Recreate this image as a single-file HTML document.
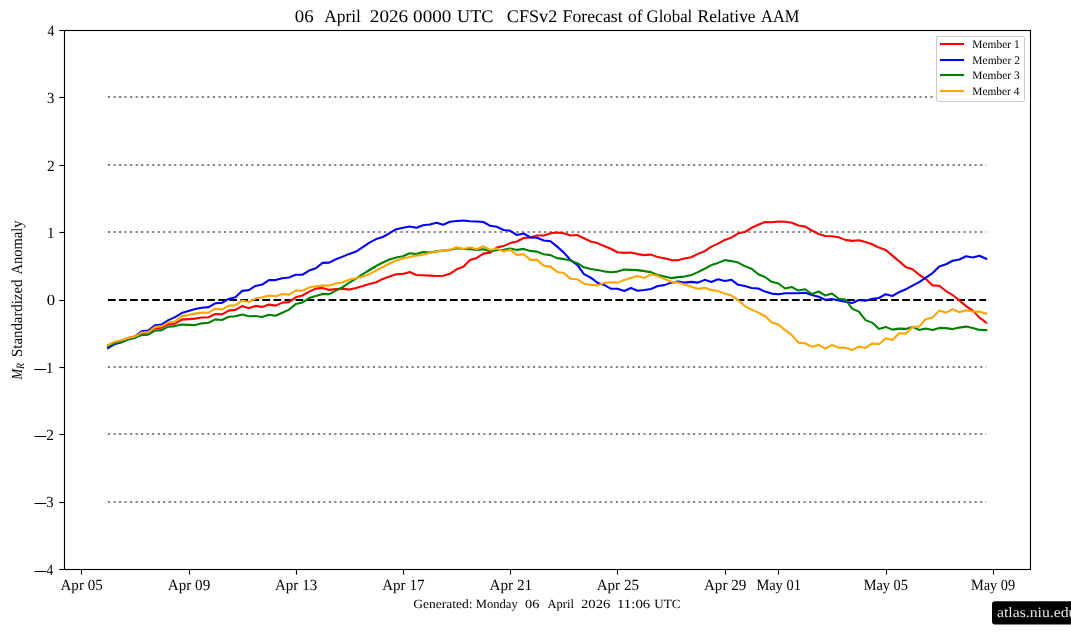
<!DOCTYPE html>
<html><head><meta charset="utf-8"><style>
html,body{margin:0;padding:0;background:#fff;width:1071px;height:638px;overflow:hidden;position:relative}
</style></head><body>
<svg width="1071" height="638" viewBox="0 0 1071 638" style="position:absolute;left:0;top:0;will-change:transform" text-rendering="geometricPrecision"><rect x="0" y="0" width="1071" height="638" fill="#ffffff"/><line x1="108.00" y1="97.00" x2="986.20" y2="97.00" stroke="#808080" stroke-width="2.08" stroke-dasharray="2.08 3.44"/><line x1="108.00" y1="165.00" x2="986.20" y2="165.00" stroke="#808080" stroke-width="2.08" stroke-dasharray="2.08 3.44"/><line x1="108.00" y1="232.00" x2="986.20" y2="232.00" stroke="#808080" stroke-width="2.08" stroke-dasharray="2.08 3.44"/><line x1="108.00" y1="367.00" x2="986.20" y2="367.00" stroke="#808080" stroke-width="2.08" stroke-dasharray="2.08 3.44"/><line x1="108.00" y1="434.00" x2="986.20" y2="434.00" stroke="#808080" stroke-width="2.08" stroke-dasharray="2.08 3.44"/><line x1="108.00" y1="502.00" x2="986.20" y2="502.00" stroke="#808080" stroke-width="2.08" stroke-dasharray="2.08 3.44"/><line x1="108.00" y1="300" x2="986.20" y2="300" stroke="#000000" stroke-width="2.08" stroke-dasharray="7.7 3.33"/><polyline fill="none" stroke="#ff0000" stroke-width="2.08" stroke-linejoin="round" stroke-linecap="square" points="108.00,345.70 114.70,342.20 121.41,340.70 128.11,338.10 134.82,336.60 141.52,333.10 148.22,332.60 154.93,328.10 161.63,327.60 168.33,324.10 175.04,323.60 181.74,319.60 188.45,319.10 195.15,318.60 201.85,317.50 208.56,317.20 215.26,314.00 221.96,314.40 228.67,310.60 235.37,309.90 242.08,306.10 248.78,308.30 255.48,305.90 262.19,306.90 268.89,304.60 275.60,305.60 282.30,302.60 289.00,302.10 295.71,297.30 302.41,295.50 309.11,291.60 315.82,288.60 322.52,287.90 329.23,289.90 335.93,289.10 342.63,288.60 349.34,289.60 356.04,288.10 362.74,286.10 369.45,283.90 376.15,282.30 382.86,278.90 389.56,276.60 396.26,274.30 402.97,273.90 409.67,272.00 416.37,275.00 423.08,275.30 429.78,275.60 436.49,276.00 443.19,275.80 449.89,273.80 456.60,269.30 463.30,266.70 470.01,259.90 476.71,257.90 483.41,253.60 490.12,252.60 496.82,247.60 503.52,246.10 510.23,243.10 516.93,241.50 523.64,238.00 530.34,237.50 537.04,235.50 543.75,235.50 550.45,233.20 557.15,232.50 563.86,233.20 570.56,235.50 577.27,235.00 583.97,238.20 590.67,241.50 597.38,243.10 604.08,246.05 610.79,248.80 617.49,252.20 624.19,252.90 630.90,252.50 637.60,254.10 644.30,255.10 651.01,254.60 657.71,257.10 664.42,258.30 671.12,260.10 677.82,260.30 684.53,258.60 691.23,257.30 697.93,253.90 704.64,251.20 711.34,246.60 718.05,243.60 724.75,239.90 731.45,237.60 738.16,233.30 744.86,232.00 751.56,227.80 758.27,224.80 764.97,222.00 771.68,222.20 778.38,221.50 785.08,221.80 791.79,222.80 798.49,225.50 805.20,226.65 811.90,230.50 818.60,234.00 825.31,236.00 832.01,236.20 838.71,237.20 845.42,239.90 852.12,240.90 858.83,240.30 865.53,242.10 872.23,244.30 878.94,247.60 885.64,249.90 892.34,255.60 899.05,261.10 905.75,267.00 912.46,269.30 919.16,274.60 925.86,279.10 932.57,285.40 939.27,285.70 945.98,291.05 952.68,295.05 959.38,300.40 966.09,306.15 972.79,310.60 979.49,317.60 986.20,322.60"/><polyline fill="none" stroke="#0000ff" stroke-width="2.08" stroke-linejoin="round" stroke-linecap="square" points="108.00,348.00 114.70,344.20 121.41,342.20 128.11,339.10 134.82,336.60 141.52,331.30 148.22,330.60 154.93,325.30 161.63,324.60 168.33,320.10 175.04,317.10 181.74,313.10 188.45,311.10 195.15,309.10 201.85,307.75 208.56,307.10 215.26,303.30 221.96,302.90 228.67,298.90 235.37,297.30 242.08,290.90 248.78,290.10 255.48,285.90 262.19,284.60 268.89,280.10 275.60,280.10 282.30,278.20 289.00,277.50 295.71,274.70 302.41,274.75 309.11,270.60 315.82,268.30 322.52,262.90 329.23,262.60 335.93,259.30 342.63,256.60 349.34,253.90 356.04,251.60 362.74,247.10 369.45,242.60 376.15,239.10 382.86,237.00 389.56,233.20 396.26,229.20 402.97,227.75 409.67,226.50 416.37,227.80 423.08,225.20 429.78,224.50 436.49,222.80 443.19,224.80 449.89,221.80 456.60,221.00 463.30,220.50 470.01,221.20 476.71,221.50 483.41,222.00 490.12,225.80 496.82,226.80 503.52,229.95 510.23,230.80 516.93,235.00 523.64,233.50 530.34,237.50 537.04,237.80 543.75,240.50 550.45,241.20 557.15,246.60 563.86,252.60 570.56,260.10 577.27,264.90 583.97,274.10 590.67,277.70 597.38,282.70 604.08,284.90 610.79,288.70 617.49,288.70 624.19,291.00 630.90,288.00 637.60,290.70 644.30,290.00 651.01,289.00 657.71,286.00 664.42,285.10 671.12,282.60 677.82,281.60 684.53,282.60 691.23,281.90 697.93,282.60 704.64,279.85 711.34,282.00 718.05,279.20 724.75,281.00 731.45,279.80 738.16,284.80 744.86,286.00 751.56,288.00 758.27,288.50 764.97,291.60 771.68,293.60 778.38,294.30 785.08,293.30 791.79,293.30 798.49,293.30 805.20,292.70 811.90,295.00 818.60,296.80 825.31,299.80 832.01,299.00 838.71,300.50 845.42,301.80 852.12,303.10 858.83,300.00 865.53,300.80 872.23,298.80 878.94,298.00 885.64,294.20 892.34,296.00 899.05,292.20 905.75,289.30 912.46,285.60 919.16,282.10 925.86,277.60 932.57,273.10 939.27,266.60 945.98,264.20 952.68,260.80 959.38,259.50 966.09,256.20 972.79,257.50 979.49,255.80 986.20,258.80"/><polyline fill="none" stroke="#008000" stroke-width="2.08" stroke-linejoin="round" stroke-linecap="square" points="108.00,346.20 114.70,343.20 121.41,342.20 128.11,339.60 134.82,337.90 141.52,335.10 148.22,334.60 154.93,330.60 161.63,330.10 168.33,326.60 175.04,326.10 181.74,324.60 188.45,324.90 195.15,325.10 201.85,323.35 208.56,322.70 215.26,319.40 221.96,320.00 228.67,316.70 235.37,316.20 242.08,314.40 248.78,316.20 255.48,316.00 262.19,317.00 268.89,314.70 275.60,315.70 282.30,312.70 289.00,309.60 295.71,304.10 302.41,302.60 309.11,298.10 315.82,296.10 322.52,293.90 329.23,294.10 335.93,290.60 342.63,287.10 349.34,282.60 356.04,278.60 362.74,274.10 369.45,270.00 376.15,266.00 382.86,262.50 389.56,259.50 396.26,257.50 402.97,256.30 409.67,253.30 416.37,254.10 423.08,252.10 429.78,252.60 436.49,251.30 443.19,250.60 449.89,249.90 456.60,248.30 463.30,248.90 470.01,249.10 476.71,249.90 483.41,249.30 490.12,251.30 496.82,250.30 503.52,249.75 510.23,248.60 516.93,249.90 523.64,248.90 530.34,250.90 537.04,251.60 543.75,254.30 550.45,255.10 557.15,258.10 563.86,259.10 570.56,260.60 577.27,263.10 583.97,267.30 590.67,268.90 597.38,270.10 604.08,271.35 610.79,272.30 617.49,271.60 624.19,269.60 630.90,269.90 637.60,270.10 644.30,271.10 651.01,272.10 657.71,275.10 664.42,276.60 671.12,278.10 677.82,277.10 684.53,276.60 691.23,275.10 697.93,272.10 704.64,268.75 711.34,265.10 718.05,262.90 724.75,260.10 731.45,261.10 738.16,262.60 744.86,266.10 751.56,268.70 758.27,274.20 764.97,277.00 771.68,281.80 778.38,283.50 785.08,288.50 791.79,287.00 798.49,290.60 805.20,289.25 811.90,294.00 818.60,291.50 825.31,295.50 832.01,293.50 838.71,298.80 845.42,299.50 852.12,308.60 858.83,311.60 865.53,320.10 872.23,322.60 878.94,328.90 885.64,326.90 892.34,329.60 899.05,328.60 905.75,328.90 912.46,326.90 919.16,329.90 925.86,328.60 932.57,329.90 939.27,327.90 945.98,328.10 952.68,329.10 959.38,327.60 966.09,326.60 972.79,328.10 979.49,329.90 986.20,330.10"/><polyline fill="none" stroke="#ffa500" stroke-width="2.08" stroke-linejoin="round" stroke-linecap="square" points="108.00,345.20 114.70,341.70 121.41,340.20 128.11,338.10 134.82,336.60 141.52,332.60 148.22,332.10 154.93,327.10 161.63,326.10 168.33,322.60 175.04,321.60 181.74,316.10 188.45,315.10 195.15,313.60 201.85,312.65 208.56,312.70 215.26,308.60 221.96,309.60 228.67,305.60 235.37,305.30 242.08,300.60 248.78,302.10 255.48,298.60 262.19,297.30 268.89,295.60 275.60,296.30 282.30,294.10 289.00,294.60 295.71,290.60 302.41,290.60 309.11,287.60 315.82,286.30 322.52,285.60 329.23,285.60 335.93,283.60 342.63,282.30 349.34,279.60 356.04,278.30 362.74,276.60 369.45,274.10 376.15,270.50 382.86,267.00 389.56,263.50 396.26,260.50 402.97,258.50 409.67,256.90 416.37,255.60 423.08,254.60 429.78,252.90 436.49,251.60 443.19,250.60 449.89,249.90 456.60,247.30 463.30,248.90 470.01,247.30 476.71,249.30 483.41,246.30 490.12,249.90 496.82,248.60 503.52,251.45 510.23,249.60 516.93,255.10 523.64,254.10 530.34,259.90 537.04,259.90 543.75,265.60 550.45,266.60 557.15,271.90 563.86,273.10 570.56,278.70 577.27,279.20 583.97,283.70 590.67,284.70 597.38,285.40 604.08,283.05 610.79,282.30 617.49,282.60 624.19,279.90 630.90,277.90 637.60,275.90 644.30,277.90 651.01,274.30 657.71,276.10 664.42,278.90 671.12,281.60 677.82,282.60 684.53,284.60 691.23,286.70 697.93,288.70 704.64,287.85 711.34,289.90 718.05,291.10 724.75,293.60 731.45,295.60 738.16,300.10 744.86,306.10 751.56,309.60 758.27,312.60 764.97,315.95 771.68,322.50 778.38,324.50 785.08,330.15 791.79,335.15 798.49,342.60 805.20,343.40 811.90,346.80 818.60,344.90 825.31,348.65 832.01,344.95 838.71,347.65 845.42,347.80 852.12,350.05 858.83,346.65 865.53,347.95 872.23,343.40 878.94,344.20 885.64,338.20 892.34,340.00 899.05,333.30 905.75,333.65 912.46,326.90 919.16,326.60 925.86,318.90 932.57,317.60 939.27,310.60 945.98,312.60 952.68,309.30 959.38,312.30 966.09,310.30 972.79,311.60 979.49,311.60 986.20,313.60"/><rect x="64.5" y="30.5" width="966.00" height="539.00" fill="none" stroke="#000" stroke-width="1.11"/><line x1="59.4" y1="569.50" x2="64.5" y2="569.50" stroke="#000" stroke-width="1.11"/><line x1="59.4" y1="502.50" x2="64.5" y2="502.50" stroke="#000" stroke-width="1.11"/><line x1="59.4" y1="434.50" x2="64.5" y2="434.50" stroke="#000" stroke-width="1.11"/><line x1="59.4" y1="367.50" x2="64.5" y2="367.50" stroke="#000" stroke-width="1.11"/><line x1="59.4" y1="300.50" x2="64.5" y2="300.50" stroke="#000" stroke-width="1.11"/><line x1="59.4" y1="232.50" x2="64.5" y2="232.50" stroke="#000" stroke-width="1.11"/><line x1="59.4" y1="165.50" x2="64.5" y2="165.50" stroke="#000" stroke-width="1.11"/><line x1="59.4" y1="97.50" x2="64.5" y2="97.50" stroke="#000" stroke-width="1.11"/><line x1="59.4" y1="30.50" x2="64.5" y2="30.50" stroke="#000" stroke-width="1.11"/><line x1="81.50" y1="569.5" x2="81.50" y2="574.6" stroke="#000" stroke-width="1.11"/><line x1="189.50" y1="569.5" x2="189.50" y2="574.6" stroke="#000" stroke-width="1.11"/><line x1="296.50" y1="569.5" x2="296.50" y2="574.6" stroke="#000" stroke-width="1.11"/><line x1="403.50" y1="569.5" x2="403.50" y2="574.6" stroke="#000" stroke-width="1.11"/><line x1="510.50" y1="569.5" x2="510.50" y2="574.6" stroke="#000" stroke-width="1.11"/><line x1="617.50" y1="569.5" x2="617.50" y2="574.6" stroke="#000" stroke-width="1.11"/><line x1="725.50" y1="569.5" x2="725.50" y2="574.6" stroke="#000" stroke-width="1.11"/><line x1="778.50" y1="569.5" x2="778.50" y2="574.6" stroke="#000" stroke-width="1.11"/><line x1="886.50" y1="569.5" x2="886.50" y2="574.6" stroke="#000" stroke-width="1.11"/><line x1="993.50" y1="569.5" x2="993.50" y2="574.6" stroke="#000" stroke-width="1.11"/><text x="60.46" y="589.80" font-family="Liberation Serif" font-size="15.5" textLength="42.31" lengthAdjust="spacingAndGlyphs" fill="#000000">Apr 05</text><text x="167.70" y="589.80" font-family="Liberation Serif" font-size="15.5" textLength="42.56" lengthAdjust="spacingAndGlyphs" fill="#000000">Apr 09</text><text x="274.94" y="589.80" font-family="Liberation Serif" font-size="15.5" textLength="42.31" lengthAdjust="spacingAndGlyphs" fill="#000000">Apr 13</text><text x="382.18" y="589.80" font-family="Liberation Serif" font-size="15.5" textLength="42.31" lengthAdjust="spacingAndGlyphs" fill="#000000">Apr 17</text><text x="489.41" y="589.80" font-family="Liberation Serif" font-size="15.5" textLength="42.82" lengthAdjust="spacingAndGlyphs" fill="#000000">Apr 21</text><text x="596.66" y="589.80" font-family="Liberation Serif" font-size="15.5" textLength="42.31" lengthAdjust="spacingAndGlyphs" fill="#000000">Apr 25</text><text x="703.90" y="589.80" font-family="Liberation Serif" font-size="15.5" textLength="42.56" lengthAdjust="spacingAndGlyphs" fill="#000000">Apr 29</text><text x="756.39" y="589.80" font-family="Liberation Serif" font-size="15.5" textLength="44.51" lengthAdjust="spacingAndGlyphs" fill="#000000">May 01</text><text x="863.64" y="589.80" font-family="Liberation Serif" font-size="15.5" textLength="44.27" lengthAdjust="spacingAndGlyphs" fill="#000000">May 05</text><text x="970.88" y="589.80" font-family="Liberation Serif" font-size="15.5" textLength="44.27" lengthAdjust="spacingAndGlyphs" fill="#000000">May 09</text><text x="47.58" y="36.10" font-family="Liberation Serif" font-size="15.5" textLength="6.84" lengthAdjust="spacingAndGlyphs" fill="#000000">4</text><text x="47.08" y="103.10" font-family="Liberation Serif" font-size="15.5" textLength="7.39" lengthAdjust="spacingAndGlyphs" fill="#000000">3</text><text x="47.04" y="171.10" font-family="Liberation Serif" font-size="15.5" textLength="7.81" lengthAdjust="spacingAndGlyphs" fill="#000000">2</text><text x="47.00" y="238.00" font-family="Liberation Serif" font-size="15.5" textLength="7.47" lengthAdjust="spacingAndGlyphs" fill="#000000">1</text><text x="46.86" y="305.00" font-family="Liberation Serif" font-size="15.5" textLength="8.38" lengthAdjust="spacingAndGlyphs" fill="#000000">0</text><text x="46.12" y="373.00" font-family="Liberation Serif" font-size="15.5" textLength="7.33" lengthAdjust="spacingAndGlyphs" fill="#000000">1</text><rect x="34.3" y="369.00" width="12.00" height="1" fill="#000"/><text x="46.16" y="440.10" font-family="Liberation Serif" font-size="15.5" textLength="7.69" lengthAdjust="spacingAndGlyphs" fill="#000000">2</text><rect x="34.5" y="436.00" width="11.80" height="1" fill="#000"/><text x="46.18" y="507.10" font-family="Liberation Serif" font-size="15.5" textLength="7.39" lengthAdjust="spacingAndGlyphs" fill="#000000">3</text><rect x="34.5" y="503.00" width="11.60" height="1" fill="#000"/><text x="46.58" y="575.00" font-family="Liberation Serif" font-size="15.5" textLength="6.73" lengthAdjust="spacingAndGlyphs" fill="#000000">4</text><rect x="34.5" y="571.00" width="11.90" height="1" fill="#000"/><text x="294.80" y="22.00" font-family="Liberation Serif" font-size="17.8" textLength="18.86" lengthAdjust="spacingAndGlyphs" fill="#000000">06</text><text x="324.15" y="22.00" font-family="Liberation Serif" font-size="17.8" textLength="36.84" lengthAdjust="spacingAndGlyphs" fill="#000000">April</text><text x="369.89" y="22.00" font-family="Liberation Serif" font-size="17.8" textLength="38.31" lengthAdjust="spacingAndGlyphs" fill="#000000">2026</text><text x="413.09" y="22.00" font-family="Liberation Serif" font-size="17.8" textLength="38.21" lengthAdjust="spacingAndGlyphs" fill="#000000">0000</text><text x="456.99" y="22.00" font-family="Liberation Serif" font-size="17.8" textLength="36.40" lengthAdjust="spacingAndGlyphs" fill="#000000">UTC</text><text x="506.84" y="22.00" font-family="Liberation Serif" font-size="17.8" textLength="50.41" lengthAdjust="spacingAndGlyphs" fill="#000000">CFSv2</text><text x="562.60" y="22.00" font-family="Liberation Serif" font-size="17.8" textLength="60.00" lengthAdjust="spacingAndGlyphs" fill="#000000">Forecast</text><text x="628.06" y="22.00" font-family="Liberation Serif" font-size="17.8" textLength="14.60" lengthAdjust="spacingAndGlyphs" fill="#000000">of</text><text x="646.59" y="22.00" font-family="Liberation Serif" font-size="17.8" textLength="45.69" lengthAdjust="spacingAndGlyphs" fill="#000000">Global</text><text x="697.61" y="22.00" font-family="Liberation Serif" font-size="17.8" textLength="57.98" lengthAdjust="spacingAndGlyphs" fill="#000000">Relative</text><text x="761.07" y="22.00" font-family="Liberation Serif" font-size="17.8" textLength="38.29" lengthAdjust="spacingAndGlyphs" fill="#000000">AAM</text><text x="413.16" y="607.70" font-family="Liberation Serif" font-size="12.5" textLength="59.41" lengthAdjust="spacingAndGlyphs" fill="#000000">Generated:</text><text x="475.75" y="607.70" font-family="Liberation Serif" font-size="12.5" textLength="41.97" lengthAdjust="spacingAndGlyphs" fill="#000000">Monday</text><text x="525.13" y="607.70" font-family="Liberation Serif" font-size="12.5" textLength="14.24" lengthAdjust="spacingAndGlyphs" fill="#000000">06</text><text x="547.60" y="607.70" font-family="Liberation Serif" font-size="12.5" textLength="26.34" lengthAdjust="spacingAndGlyphs" fill="#000000">April</text><text x="581.01" y="607.70" font-family="Liberation Serif" font-size="12.5" textLength="29.27" lengthAdjust="spacingAndGlyphs" fill="#000000">2026</text><text x="617.02" y="607.70" font-family="Liberation Serif" font-size="12.5" textLength="33.20" lengthAdjust="spacingAndGlyphs" fill="#000000">11:06</text><text x="654.24" y="607.70" font-family="Liberation Serif" font-size="12.5" textLength="26.15" lengthAdjust="spacingAndGlyphs" fill="#000000">UTC</text><g transform="translate(22.1,379.7) rotate(-90)"><text x="0.21" y="0.00" font-family="Liberation Serif" font-size="15.2" font-style="italic" textLength="10.59" lengthAdjust="spacingAndGlyphs" fill="#000000">M</text><text x="10.80" y="1.90" font-family="Liberation Serif" font-size="11.2" font-style="italic" textLength="5.98" lengthAdjust="spacingAndGlyphs" fill="#000000">R</text><text x="22.74" y="0.00" font-family="Liberation Serif" font-size="15.5" textLength="77.42" lengthAdjust="spacingAndGlyphs" fill="#000000">Standardized</text><text x="105.17" y="0.00" font-family="Liberation Serif" font-size="15.5" textLength="54.18" lengthAdjust="spacingAndGlyphs" fill="#000000">Anomaly</text></g><rect x="936.5" y="36.5" width="88" height="65" rx="2.2" fill="#ffffff" stroke="#cccccc" stroke-width="1.11"/><line x1="940.0" y1="44.00" x2="964.1" y2="44.00" stroke="#ff0000" stroke-width="2.08"/><text x="972.35" y="47.90" font-family="Liberation Serif" font-size="11.6" textLength="47.27" lengthAdjust="spacingAndGlyphs" fill="#000000">Member 1</text><line x1="940.0" y1="60.00" x2="964.1" y2="60.00" stroke="#0000ff" stroke-width="2.08"/><text x="972.35" y="63.57" font-family="Liberation Serif" font-size="11.6" textLength="47.58" lengthAdjust="spacingAndGlyphs" fill="#000000">Member 2</text><line x1="940.0" y1="75.00" x2="964.1" y2="75.00" stroke="#008000" stroke-width="2.08"/><text x="972.35" y="79.24" font-family="Liberation Serif" font-size="11.6" textLength="47.32" lengthAdjust="spacingAndGlyphs" fill="#000000">Member 3</text><line x1="940.0" y1="91.00" x2="964.1" y2="91.00" stroke="#ffa500" stroke-width="2.08"/><text x="972.35" y="94.91" font-family="Liberation Serif" font-size="11.6" textLength="47.08" lengthAdjust="spacingAndGlyphs" fill="#000000">Member 4</text><rect x="992.0" y="601.2" width="100" height="23.4" rx="3" fill="#000"/><text x="996.96" y="617.0" font-family="Liberation Serif" font-size="14.5" fill="#e6e6e6" transform="translate(996.96,0) scale(1.0840,1) translate(-996.96,0)">atlas.niu.edu</text></svg>
</body></html>
